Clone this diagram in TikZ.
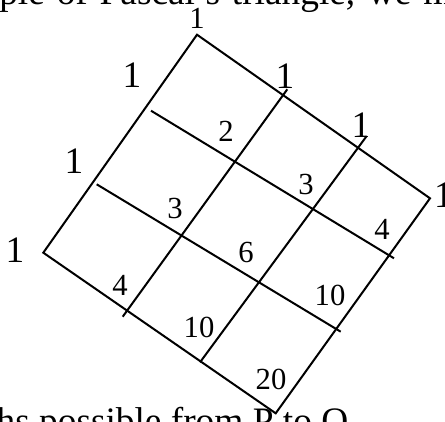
\documentclass[tikz,border=0pt]{standalone}
\usepackage{fontspec}
\setmainfont{Liberation Serif}
\begin{document}
\begin{tikzpicture}[x=0.75pt,y=-0.75pt,
  gridline/.style={line width=1.5pt, line join=miter},
  one/.style={font=\fontsize{28}{32}\selectfont, inner sep=0pt},
  num/.style={font=\fontsize{23}{27}\selectfont, inner sep=0pt},
  body/.style={font=\fontsize{28}{32}\selectfont, inner sep=0pt}]
\useasboundingbox (0,0) rectangle (445,421);
\clip (0,0) rectangle (445,421);
% border vertices
\coordinate (T) at (197,34.7);
\coordinate (R) at (430,198.3);
\coordinate (B) at (275.7,413.3);
\coordinate (L) at (43.3,252.7);
% interior lines
\coordinate (ua1) at (151,110.7);
\coordinate (ub1) at (394,258.3);
\coordinate (ua2) at (96.7,184.3);
\coordinate (ub2) at (340.7,331.7);
\coordinate (va1) at (122.7,316.7);
\coordinate (vb1) at (287.3,89.3);
\coordinate (va2) at (200,362.3);
\coordinate (vb2) at (366.7,136);
\draw[gridline] (T) -- (R) -- (B) -- (L) -- cycle;
\draw[gridline] (ua1) -- (ub1);
\draw[gridline] (ua2) -- (ub2);
\draw[gridline] (va1) -- (vb1);
\draw[gridline] (va2) -- (vb2);
% ones
\node[num] (o1) at (197,18) {1};
\node[one] (o2) at (132,75.5) {1};
\node[one] (o3) at (74,161.5) {1};
\node[one] (o4) at (15,250) {1};
\node[one] (o5) at (285,76) {1};
\node[one] (o6) at (361,125) {1};
\node[one] (o7) at (443.5,195) {1};
% inner numbers
\node[num] (n2) at (226,131) {2};
\node[num] (n3a) at (306,184) {3};
\node[num] (n4a) at (382,229) {4};
\node[num] (n3b) at (175,208) {3};
\node[num] (n6) at (246,252) {6};
\node[num] (n10a) at (330,295) {10};
\node[num] (n4b) at (120,285.5) {4};
\node[num] (n10b) at (199,327.5) {10};
\node[num] (n20) at (271,379.5) {20};
% surrounding text (cut off by the picture's edges)
\node[body, anchor=base west] (toptext) at (-1,4) {\makebox[339.75pt][s]{ple of Pascal's triangle, we m}};
\node[body, anchor=base west] (bottext) at (-14,433) {ths possible from P to Q};
\end{tikzpicture}
\end{document}
